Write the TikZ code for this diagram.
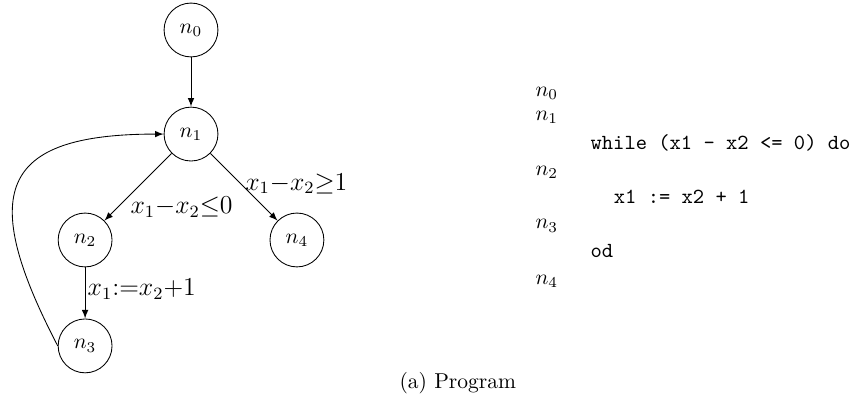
\documentclass[tikz,border=0pt]{standalone}
\usepackage{amsmath}
\usepackage{amssymb}
\usepackage{tikz}
\usetikzlibrary{arrows,positioning}

\begin{document}
\begin{tikzpicture}[>=latex,
    cfgnode/.style={circle, draw, minimum size=0.88cm, inner sep=0pt},
    guard/.style={font=\large, inner sep=2pt},
    listline/.style={anchor=base west, inner sep=0pt}]
        \useasboundingbox (0,0) rectangle (13.9,6.5);

        % Graf toka kontrole
        \node[cfgnode] (n0) at (3.12, 6.01) {$n_0$};
        \node[cfgnode] (n1) at (3.12, 4.31) {$n_1$};
        \node[cfgnode] (n2) at (1.39, 2.58) {$n_2$};
        \node[cfgnode] (n4) at (4.85, 2.58) {$n_4$};
        \node[cfgnode] (n3) at (1.39, 0.85) {$n_3$};

        \draw[->] (n0) -- (n1);
        \draw[->] (n1) -- (n2) node[guard, pos=0.8, right, xshift=0.13cm] {$x_1{-}x_2{\leq}0$};
        \draw[->] (n1) -- (n4) node[guard, pos=0.45, right] {$x_1{-}x_2{\geq}1$};
        \draw[->] (n2) -- (n3) node[guard, pos=0.42, right, inner sep=1pt] {$x_1{:=}x_2{+}1$};
        \draw[->] (n3.west) .. controls +(-1.30,2.50) and +(-2.70,0) .. (n1.west);

        % Program
        \node[listline] (l0) at (8.74, 4.93) {$n_0$};
        \node[listline] (l1) at (8.74, 4.53) {$n_1$};
        \node[listline, font=\ttfamily] (c1) at (9.64, 4.06) {while (x1 - x2 <= 0) do};
        \node[listline] (l2) at (8.74, 3.64) {$n_2$};
        \node[listline, font=\ttfamily] (c2) at (10.02, 3.18) {x1 := x2 + 1};
        \node[listline] (l3) at (8.74, 2.76) {$n_3$};
        \node[listline, font=\ttfamily] (c3) at (9.64, 2.30) {od};
        \node[listline] (l4) at (8.74, 1.85) {$n_4$};

        \node[listline] (cap) at (6.52, 0.16) {(a) Program};
    \end{tikzpicture}
\end{document}
